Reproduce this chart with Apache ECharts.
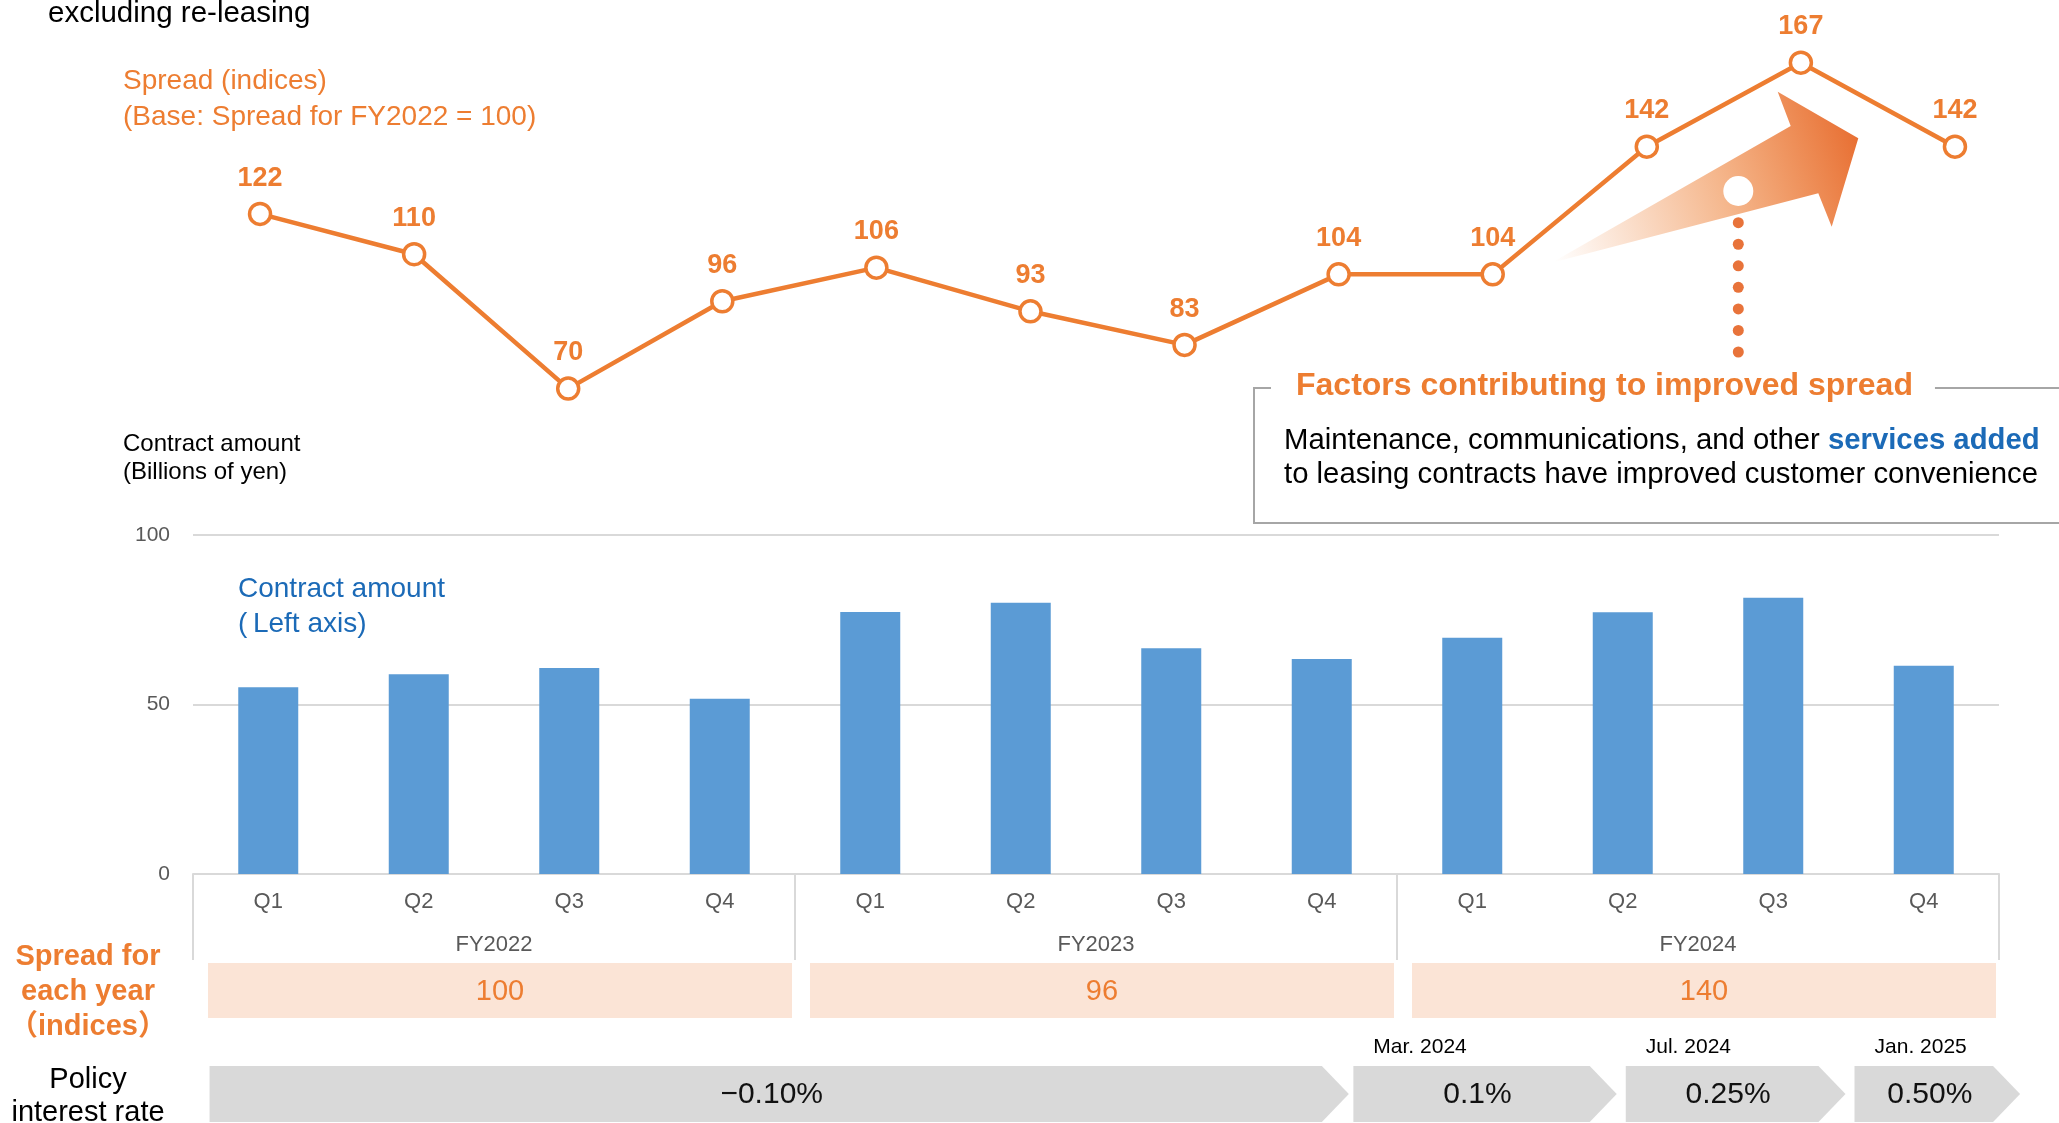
<!DOCTYPE html>
<html>
<head>
<meta charset="utf-8">
<title>Contract amount and spread</title>
<script src="https://cdn.jsdelivr.net/npm/echarts@6/dist/echarts.min.js"></script>
<style>
  html, body { margin: 0; padding: 0; background: #fff; }
  #chart { width: 2059px; height: 1123px; }
</style>
</head>
<body>
<div id="chart"></div>
<script>
// data
var quarters = ['Q1', 'Q2', 'Q3', 'Q4', 'Q1', 'Q2', 'Q3', 'Q4', 'Q1', 'Q2', 'Q3', 'Q4'];
var fiscalYears = ['FY2022', 'FY2023', 'FY2024'];
var contractAmount = [55.1, 58.9, 60.8, 51.7, 77.3, 80.0, 66.6, 63.4, 69.7, 77.2, 81.5, 61.4];
var spreadIndex = [122, 110, 70, 96, 106, 93, 83, 104, 104, 142, 167, 142];
var amountTicks = [0, 50, 100];

// spread for each year, spanning quarter index start..end
var yearSpread = [100, 96, 140];
var yearStartQ = [0, 4, 8];
var yearEndQ = [4, 8, 12];

// policy interest rate periods, in quarter units from FY2022 Q1
var rateLabels = ['\u22120.10%', '0.1%', '0.25%', '0.50%'];
var rateDates = ['', 'Mar. 2024', 'Jul. 2024', 'Jan. 2025'];
var rateStartQ = [0.11, 7.71, 9.52, 11.04];
var rateEndQ = [7.68, 9.46, 10.98, 12.14];

var FONT = '"Liberation Sans", Arial, "Noto Sans CJK JP", sans-serif';
var ORANGE = '#ed7d31';
var BLUE = '#1b6ab7';
var GREY_TXT = '#595959';
var GRID_LINE = '#d9d9d9';

function renderSpreadBox(params, api) {
    var cs = params.coordSys;
    var x0 = api.coord([api.value(0), 0])[0] + 15;
    var x1 = api.coord([api.value(1), 0])[0] - 3;
    return {
        type: 'group',
        children: [
            { type: 'rect', shape: { x: x0, y: cs.y, width: x1 - x0, height: cs.height },
              style: { fill: '#fbe4d6' } },
            { type: 'text', style: { text: String(api.value(2)), x: (x0 + x1) / 2, y: cs.y + cs.height / 2 + 1,
              align: 'center', verticalAlign: 'middle', fill: ORANGE, font: '29px ' + FONT } }
        ]
    };
}

function renderRateArrow(params, api) {
    var i = params.dataIndex;
    var cs = params.coordSys;
    var x0 = api.coord([api.value(0), 0])[0];
    var x1 = api.coord([api.value(1), 0])[0];
    var y0 = cs.y, y1 = cs.y + cs.height, ym = (y0 + y1) / 2;
    var d = 27; // depth of the arrow point
    var children = [
        { type: 'polygon', shape: { points: [[x0, y0], [x1 - d, y0], [x1, ym], [x1 - d, y1], [x0, y1]] },
          style: { fill: '#d9d9d9' } },
        { type: 'text', style: { text: rateLabels[i], x: (x0 + x1 - d) / 2 + 6, y: ym + 1,
          align: 'center', verticalAlign: 'middle', fill: '#111', font: '30px ' + FONT } }
    ];
    if (rateDates[i]) {
        children.push({ type: 'text', style: { text: rateDates[i], x: x0 + 20, y: y0 - 19,
            align: 'left', verticalAlign: 'middle', fill: '#000', font: '21px ' + FONT } });
    }
    return { type: 'group', children: children };
}

var spreadBoxData = yearSpread.map(function (v, i) { return [yearStartQ[i], yearEndQ[i], v]; });
var rateData = rateLabels.map(function (v, i) { return [rateStartQ[i], rateEndQ[i]]; });

// arrow for "improved spread"
var arrowFill = new echarts.graphic.LinearGradient(0, 0.95, 1, 0.3, [
    { offset: 0, color: 'rgba(237,125,49,0)' },
    { offset: 0.55, color: 'rgba(237,125,49,0.55)' },
    { offset: 1, color: 'rgba(232,112,52,1)' }
]);

var dots = [];
for (var k = 0; k < 7; k++) {
    dots.push({ type: 'circle', shape: { cx: 1738.3, cy: 222.7 + k * 21.55, r: 5.5 }, style: { fill: '#e8733a' } });
}

var option = {
    animation: false,
    backgroundColor: '#fff',
    textStyle: { fontFamily: FONT },
    grid: [
        { left: 193, right: 60, top: 535, bottom: 249, outerBoundsMode: 'none' },   // bars
        { left: 183, right: 27, top: 52.6, height: 369.6, outerBoundsMode: 'none' }, // spread line
        { left: 193, right: 60, top: 963, height: 55, outerBoundsMode: 'none' },    // spread per year
        { left: 193, right: 60, top: 1066, height: 56, outerBoundsMode: 'none' }    // policy rate
    ],
    xAxis: [
        {
            type: 'category', gridIndex: 0, data: quarters,
            axisLine: { lineStyle: { color: GRID_LINE, width: 2 } },
            axisTick: { show: false },
            axisLabel: { color: GREY_TXT, fontSize: 22, margin: 17, fontFamily: FONT }
        },
        {
            type: 'category', gridIndex: 0, data: fiscalYears, position: 'bottom',
            axisLine: { show: false },
            axisTick: { show: true, length: 86, lineStyle: { color: GRID_LINE, width: 2 } },
            axisLabel: { color: GREY_TXT, fontSize: 22, margin: 60, fontFamily: FONT }
        },
        { type: 'category', gridIndex: 1, data: quarters, show: false },
        { type: 'value', gridIndex: 2, min: 0, max: 12, show: false },
        { type: 'value', gridIndex: 3, min: 0, max: 12, show: false }
    ],
    yAxis: [
        {
            type: 'value', gridIndex: 0,
            min: amountTicks[0], max: amountTicks[amountTicks.length - 1], interval: 50,
            axisLine: { show: false },
            axisTick: { show: false },
            axisLabel: { color: GREY_TXT, fontSize: 21, margin: 23, fontFamily: FONT },
            splitLine: { lineStyle: { color: GRID_LINE, width: 2 } }
        },
        { type: 'value', gridIndex: 1, min: 60, max: 170, show: false },
        { type: 'value', gridIndex: 2, min: 0, max: 1, show: false },
        { type: 'value', gridIndex: 3, min: 0, max: 1, show: false }
    ],
    series: [
        {
            name: 'Contract amount', type: 'bar', xAxisIndex: 0, yAxisIndex: 0,
            data: contractAmount, barWidth: 60,
            itemStyle: { color: '#5b9bd5' },
            emphasis: { disabled: true }
        },
        {
            name: 'Spread', type: 'line', xAxisIndex: 2, yAxisIndex: 1,
            data: spreadIndex,
            symbol: 'circle', symbolSize: 21,
            itemStyle: { color: '#fff', borderColor: ORANGE, borderWidth: 3.5 },
            lineStyle: { color: ORANGE, width: 4.5 },
            label: {
                show: true, position: 'top', distance: 10,
                color: ORANGE, fontWeight: 'bold', fontSize: 27, fontFamily: FONT
            },
            emphasis: { disabled: true },
            z: 3
        },
        {
            name: 'Spread for each year', type: 'custom', xAxisIndex: 3, yAxisIndex: 2,
            data: spreadBoxData, renderItem: renderSpreadBox, clip: false, silent: true
        },
        {
            name: 'Policy interest rate', type: 'custom', xAxisIndex: 4, yAxisIndex: 3,
            data: rateData, renderItem: renderRateArrow, clip: false, silent: true
        }
    ],
    graphic: [
        { type: 'text', style: { text: 'excluding re-leasing', x: 48, y: 13.5, verticalAlign: 'middle',
          fill: '#000', font: '29.5px ' + FONT } },
        { type: 'text', style: { text: 'Spread (indices)\n(Base: Spread for FY2022 = 100)', x: 123, y: 63,
          verticalAlign: 'top', lineHeight: 36, fill: ORANGE, font: '28px ' + FONT } },
        { type: 'text', style: { text: 'Contract amount\n(Billions of yen)', x: 123, y: 430,
          verticalAlign: 'top', lineHeight: 28.5, fill: '#000', font: '24px ' + FONT } },
        { type: 'text', style: { text: 'Contract amount\n(\u2009Left axis)', x: 238, y: 571.5,
          verticalAlign: 'top', lineHeight: 35, fill: BLUE, font: '28px ' + FONT } },
        { type: 'text', style: { text: 'Spread for\neach year\n\uff08indices\uff09', x: 88, y: 939,
          align: 'center', verticalAlign: 'top', lineHeight: 35, fill: ORANGE, font: 'bold 29px ' + FONT } },
        { type: 'text', style: { text: 'Policy\ninterest rate', x: 88, y: 1063,
          align: 'center', verticalAlign: 'top', lineHeight: 33, fill: '#000', font: '29px ' + FONT } },
        // factors box
        { type: 'rect', shape: { x: 1254, y: 388, width: 900, height: 135 },
          style: { fill: 'none', stroke: '#a6a6a6', lineWidth: 2 } },
        { type: 'text', style: { text: 'Factors contributing to improved spread', x: 1271, y: 386,
          verticalAlign: 'middle', fill: ORANGE, font: 'bold 32px ' + FONT,
          backgroundColor: '#fff', padding: [2, 22, 2, 25] } },
        { type: 'text', style: {
            text: 'Maintenance, communications, and other {b|services added}\nto leasing contracts have improved customer convenience',
            x: 1284, y: 424, verticalAlign: 'top', lineHeight: 34, fill: '#000', font: '29.3px ' + FONT,
            rich: { b: { fill: BLUE, fontWeight: 'bold', fontSize: 29.3, fontFamily: FONT, lineHeight: 34 } }
        } },
        // gradient arrow
        { type: 'polygon', shape: { points: [[1551.7, 262.7], [1790.7, 126], [1777.7, 91.7], [1858.3, 138.3],
          [1831.7, 226.7], [1818.3, 193.3]] }, style: { fill: arrowFill } },
        { type: 'circle', shape: { cx: 1738.3, cy: 191, r: 15 }, style: { fill: '#fff' } }
    ].concat(dots)
};

var chart = echarts.init(document.getElementById('chart'));
chart.setOption(option);
</script>
</body>
</html>
